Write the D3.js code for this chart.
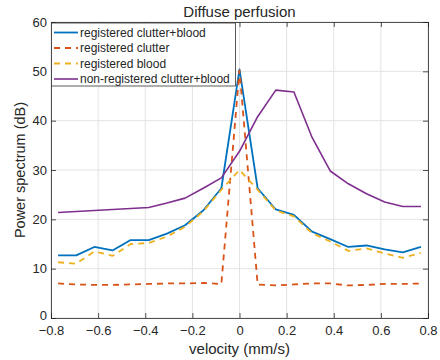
<!DOCTYPE html>
<html>
<head>
<meta charset="utf-8">
<script src="https://cdn.jsdelivr.net/npm/d3@7"></script>
<style>
  body { margin: 0; background: #fff; }
  text { font-family: "Liberation Sans", Arial, sans-serif; fill: #262626; }
</style>
</head>
<body>
<svg id="chart" width="440" height="360"></svg>
<script>
// velocities (mm/s)
var velocity = [-0.77, -0.693, -0.616, -0.539, -0.462, -0.385, -0.308, -0.231, -0.154, -0.077, 0,
                0.077, 0.154, 0.231, 0.308, 0.385, 0.462, 0.539, 0.616, 0.693, 0.77];

var regClutterBlood = [12.7, 12.7, 14.4, 13.7, 15.8, 15.8, 17.1, 18.8, 21.8, 26.3, 50.4,
                       26.3, 22.0, 20.9, 17.5, 16.0, 14.4, 14.7, 13.9, 13.3, 14.4];
var regClutter = [7.0, 6.8, 6.7, 6.7, 6.8, 6.9, 7.0, 7.0, 7.1, 6.9, 50.2,
                  6.8, 6.6, 6.8, 7.0, 7.0, 6.6, 6.7, 6.9, 6.9, 7.0];
var regBlood = [11.3, 11.0, 13.5, 12.6, 15.0, 15.2, 16.5, 18.5, 21.6, 26.0, 30.0,
                26.0, 21.8, 20.6, 17.2, 15.5, 13.6, 14.1, 13.1, 12.2, 13.2];
var nonRegClutterBlood = [21.4, 21.6, 21.8, 22.0, 22.2, 22.4, 23.3, 24.3, 26.3, 28.4, 33.8,
                          40.8, 46.2, 45.8, 36.6, 29.8, 27.2, 25.2, 23.5, 22.6, 22.6];

var xTicks = [-0.8, -0.6, -0.4, -0.2, 0, 0.2, 0.4, 0.6, 0.8];
var yTicks = [0, 10, 20, 30, 40, 50, 60];

var series = [
    {name: "registered clutter+blood", values: regClutterBlood, color: "#0072BD", dash: null, width: 1.8},
    {name: "registered clutter", values: regClutter, color: "#D95319", dash: "6,5", width: 1.8},
    {name: "registered blood", values: regBlood, color: "#EDB120", dash: "6,5", width: 1.8},
    {name: "non-registered clutter+blood", values: nonRegClutterBlood, color: "#7E2F8E", dash: null, width: 1.6}
];

var svg = d3.select("#chart");
var margin = {top: 22, right: 12, bottom: 42, left: 51},
    width = 440 - margin.left - margin.right,
    height = 360 - margin.top - margin.bottom;

var x = d3.scaleLinear().domain([-0.8, 0.8]).range([0, width]);
var y = d3.scaleLinear().domain([0, 60]).range([height, 0]);

var g = svg.append("g")
    .attr("transform", "translate(" + margin.left + "," + margin.top + ")");

// grid
g.append("g").selectAll("line").data(xTicks).enter().append("line")
    .attr("x1", function(d) { return x(d); }).attr("x2", function(d) { return x(d); })
    .attr("y1", 0).attr("y2", height)
    .attr("stroke", "#e3e3e3").attr("stroke-width", 1);
g.append("g").selectAll("line").data(yTicks).enter().append("line")
    .attr("y1", function(d) { return y(d); }).attr("y2", function(d) { return y(d); })
    .attr("x1", 0).attr("x2", width)
    .attr("stroke", "#e3e3e3").attr("stroke-width", 1);

// axes (ticks inward, MATLAB style)
var xAxis = d3.axisBottom(x).tickValues(xTicks).tickSize(-5).tickPadding(8)
    .tickFormat(function(d) { return d === 0 ? "0" : d3.format(".1f")(d); });
var yAxis = d3.axisLeft(y).tickValues(yTicks).tickSize(-5).tickPadding(4);

var gx = g.append("g").attr("transform", "translate(0," + height + ")").call(xAxis);
var gy = g.append("g").call(yAxis);
g.append("g").call(d3.axisTop(x).tickValues(xTicks).tickSize(-5).tickFormat(""));
g.append("g").attr("transform", "translate(" + width + ",0)")
    .call(d3.axisRight(y).tickValues(yTicks).tickSize(-5).tickFormat(""));

g.selectAll(".domain").attr("stroke", "#262626").attr("stroke-width", 0.8);
g.selectAll(".tick line").attr("stroke", "#262626").attr("stroke-width", 0.8);
gx.selectAll("text").attr("font-size", 13).style("fill", "#262626");
gy.selectAll("text").attr("font-size", 13).style("fill", "#262626");
// nudge the "0" y label up a bit so it clears the x labels
gy.selectAll(".tick").filter(function(d) { return d === 0; }).select("text").attr("dy", "0.1em");

// lines
var line = d3.line()
    .x(function(d, i) { return x(velocity[i]); })
    .y(function(d) { return y(d); });

series.forEach(function(s) {
    g.append("path")
        .datum(s.values)
        .attr("fill", "none")
        .attr("stroke", s.color)
        .attr("stroke-width", s.width)
        .attr("stroke-dasharray", s.dash)
        .attr("stroke-linejoin", "round")
        .attr("d", line);
});

// title + labels
svg.append("text")
    .attr("x", margin.left + width / 2).attr("y", 17)
    .attr("text-anchor", "middle").attr("font-size", 15)
    .text("Diffuse perfusion");
svg.append("text")
    .attr("x", margin.left + width / 2).attr("y", 354)
    .attr("text-anchor", "middle").attr("font-size", 15)
    .text("velocity (mm/s)");
svg.append("text")
    .attr("transform", "translate(25," + (margin.top + height / 2) + ") rotate(-90)")
    .attr("text-anchor", "middle").attr("font-size", 14.5)
    .text("Power spectrum (dB)");

// legend
var legend = g.append("g").attr("transform", "translate(0,1)");
legend.append("rect")
    .attr("x", 0.5).attr("y", 0).attr("width", 184).attr("height", 63)
    .attr("fill", "#fff").attr("stroke", "#333").attr("stroke-width", 0.8);
series.forEach(function(s, i) {
    var ly = 9.5 + i * 15.5;
    legend.append("line")
        .attr("x1", 3).attr("x2", 27).attr("y1", ly).attr("y2", ly)
        .attr("stroke", s.color).attr("stroke-width", s.width)
        .attr("stroke-dasharray", s.dash);
    legend.append("text")
        .attr("x", 29).attr("y", ly + 4.3).attr("font-size", 12)
        .text(s.name);
});
</script>
</body>
</html>
